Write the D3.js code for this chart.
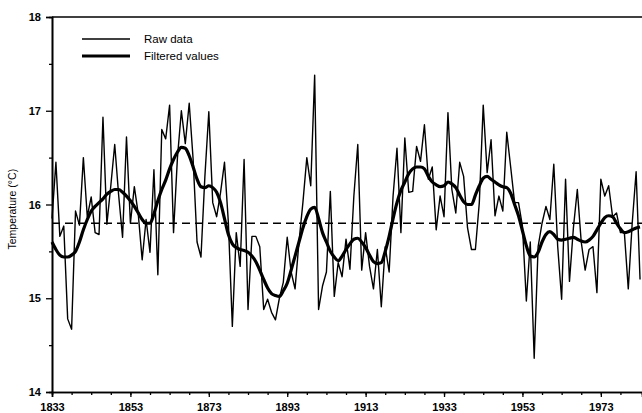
<!DOCTYPE html>
<html>
<head>
<meta charset="utf-8">
<script src="https://cdn.jsdelivr.net/npm/d3@7"></script>
<style>
  body { margin: 0; background: #fff; }
  text { font-family: "Liberation Sans", Arial, sans-serif; fill: #000; }
</style>
</head>
<body>
<div id="chart"></div>
<script>
// yearly values, 1833 - 1983
var start_year = 1833;
var raw_data = [
    15.85, 16.45, 15.66, 15.77, 14.78, 14.67, 15.93, 15.78, 16.50, 15.87,
    16.08, 15.70, 15.68, 16.93, 15.79, 16.20, 16.64, 16.10, 15.65, 16.72,
    15.80, 16.19, 15.90, 15.41, 15.84, 15.49, 16.37, 15.25, 16.80, 16.70,
    17.06, 15.70, 16.50, 17.00, 16.65, 17.08, 16.48, 15.60, 15.44, 16.30,
    16.99, 16.02, 15.87, 16.13, 16.45, 15.80, 14.70, 15.70, 15.34, 16.48,
    14.88, 15.66, 15.66, 15.55, 14.88, 14.99, 14.85, 14.77, 15.00, 15.17,
    15.65, 15.28, 15.10, 15.60, 16.02, 16.50, 16.20, 17.38, 14.88, 15.13,
    15.28, 16.14, 15.02, 15.38, 15.23, 15.63, 15.31, 16.09, 16.64, 15.30,
    15.70, 15.34, 15.10, 15.52, 14.91, 15.55, 15.28, 16.09, 16.60, 15.70,
    16.71, 16.13, 16.14, 16.62, 16.46, 16.85, 16.27, 16.40, 15.73, 16.09,
    15.87, 16.98, 16.16, 15.91, 16.45, 16.30, 15.75, 15.52, 15.52, 16.02,
    17.06, 16.34, 16.69, 15.88, 16.09, 15.93, 16.77, 16.40, 16.02, 16.02,
    15.77, 14.97, 15.60, 14.36, 15.55, 15.80, 15.98, 15.84, 16.43, 15.55,
    14.99, 16.27, 15.18, 15.75, 16.16, 15.60, 15.30, 15.52, 15.55, 15.06,
    16.27, 16.09, 16.20, 15.87, 15.91, 15.70, 15.70, 15.10, 15.80, 16.35,
    15.20
];
var filtered_values = [
    15.60, 15.52, 15.46, 15.44, 15.44, 15.46, 15.50, 15.60, 15.73, 15.84,
    15.93, 15.98, 16.02, 16.06, 16.11, 16.14, 16.16, 16.16, 16.13, 16.09,
    16.04, 15.98, 15.91, 15.84, 15.80, 15.80, 15.90, 16.04, 16.16, 16.26,
    16.38, 16.48, 16.56, 16.61, 16.60, 16.52, 16.40, 16.27, 16.19, 16.18,
    16.20, 16.18, 16.13, 16.02, 15.85, 15.68, 15.58, 15.54, 15.52, 15.51,
    15.49, 15.45, 15.39, 15.30, 15.20, 15.11, 15.05, 15.03, 15.02, 15.08,
    15.16, 15.30, 15.45, 15.60, 15.75, 15.87, 15.95, 15.97, 15.85, 15.70,
    15.60, 15.50, 15.44, 15.40, 15.45, 15.52, 15.58, 15.63, 15.64, 15.60,
    15.54, 15.46, 15.39, 15.37, 15.38, 15.50, 15.66, 15.85, 16.02, 16.15,
    16.24, 16.33, 16.38, 16.40, 16.40, 16.38, 16.30, 16.24, 16.21, 16.19,
    16.20, 16.24, 16.22, 16.18, 16.10, 16.03, 16.00, 16.00, 16.10, 16.20,
    16.28, 16.30, 16.27, 16.24, 16.21, 16.19, 16.18, 16.12, 16.00, 15.88,
    15.72, 15.56, 15.45, 15.44, 15.49, 15.60, 15.68, 15.71, 15.68, 15.63,
    15.62, 15.63, 15.64, 15.65, 15.63, 15.61, 15.60, 15.62, 15.66, 15.73,
    15.80, 15.86, 15.88, 15.87, 15.80, 15.74, 15.70, 15.71, 15.73, 15.75,
    15.76
];
var mean_value = 15.8;
var y_ticks = [14, 15, 16, 17, 18];
var x_ticks = [1833, 1853, 1873, 1893, 1913, 1933, 1953, 1973];
var legend_labels = ['Raw data', 'Filtered values'];

var chart_width  = 642;
var chart_height = 413;
var svg = d3.select('#chart')
    .append('svg')
    .attr('width', chart_width)
    .attr('height', chart_height);

// scales
var x_scale = d3.scaleLinear()
    .domain([1833, 1983.5])
    .range([52, 642]);
var y_scale = d3.scaleLinear()
    .domain([14, 18])
    .range([392, 17]);

var year = function(d, i){
    return x_scale(start_year + i);
};

// axes
svg.append('g')
    .attr('transform', 'translate(52,0)')
    .call(d3.axisLeft(y_scale).tickValues(d3.range(14.5, 18, 1)).tickSize(3).tickFormat(''));
svg.append('g')
    .attr('class', 'y-axis')
    .attr('transform', 'translate(52,0)')
    .call(d3.axisLeft(y_scale).tickValues(y_ticks).tickSize(6).tickPadding(5).tickFormat(d3.format('d')));

svg.append('g')
    .attr('transform', 'translate(0,392)')
    .call(d3.axisBottom(x_scale).tickValues(d3.range(1838, 1983, 5)).tickSize(3).tickFormat(''));
svg.append('g')
    .attr('class', 'x-axis')
    .attr('transform', 'translate(0,392)')
    .call(d3.axisBottom(x_scale).tickValues(x_ticks).tickSize(5).tickPadding(6).tickFormat(d3.format('d')));

svg.selectAll('.domain')
    .attr('stroke', '#000')
    .attr('stroke-width', 1.6);
svg.selectAll('.tick line')
    .attr('stroke', '#000')
    .attr('stroke-width', 1.3);
svg.selectAll('.y-axis text, .x-axis text')
    .attr('font-size', 11)
    .attr('font-weight', 'bold');

// top frame line
svg.append('line')
    .attr('x1', 52).attr('x2', 642)
    .attr('y1', y_scale(18)).attr('y2', y_scale(18))
    .attr('stroke', '#000')
    .attr('stroke-width', 1.6);

// y label
svg.append('text')
    .attr('transform', 'translate(16,' + y_scale(15.95) + ') rotate(-90)')
    .attr('text-anchor', 'middle')
    .attr('font-size', 10.5)
    .text('Temperature (°C)');

// mean line
svg.append('line')
    .attr('x1', x_scale(1833)).attr('x2', x_scale(1983.5))
    .attr('y1', y_scale(mean_value)).attr('y2', y_scale(mean_value))
    .attr('stroke', '#000')
    .attr('stroke-width', 1.4)
    .attr('stroke-dasharray', '8,5');

// raw series
var raw_line = d3.line()
    .x(year)
    .y(function(d){ return y_scale(d); });
svg.append('path')
    .datum(raw_data)
    .attr('d', raw_line)
    .attr('fill', 'none')
    .attr('stroke', '#000')
    .attr('stroke-width', 1.4)
    .attr('stroke-linejoin', 'round');

// filtered series
var smooth_line = d3.line()
    .x(year)
    .y(function(d){ return y_scale(d); })
    .curve(d3.curveMonotoneX);
svg.append('path')
    .datum(filtered_values)
    .attr('d', smooth_line)
    .attr('fill', 'none')
    .attr('stroke', '#000')
    .attr('stroke-width', 3.2)
    .attr('stroke-linejoin', 'round');

// legend
var legend = svg.selectAll('.legend')
    .data(legend_labels)
    .enter()
    .append('g')
    .attr('class', 'legend')
    .attr('transform', function(d, i){
        return 'translate(82,' + (39 + i * 17) + ')';
    });
legend.append('line')
    .attr('x1', 0).attr('x2', 48)
    .attr('stroke', '#000')
    .attr('stroke-width', function(d, i){ return i === 0 ? 1.4 : 3.2; });
legend.append('text')
    .attr('x', 62)
    .attr('dy', '0.35em')
    .attr('font-size', 11.5)
    .text(function(d){ return d; });
</script>
</body>
</html>
